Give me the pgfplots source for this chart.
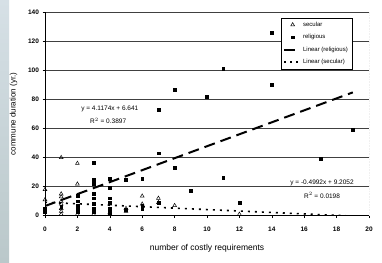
\documentclass[border=0pt]{standalone}
\usepackage{fontspec}
\setmainfont{Liberation Sans}
\usepackage{pgfplots}
\pgfplotsset{compat=1.18}
\begin{document}
\begin{tikzpicture}[x=1pt,y=1pt]
\useasboundingbox (0,0) rectangle (382,262);
\fill[white] (0,0) rectangle (382,262);
\shade[top color={rgb,255:red,214;green,224;blue,230}, bottom color={rgb,255:red,186;green,200;blue,202}] (0,0) rectangle (9,262);
\begin{axis}[
  at={(45pt,46.3pt)}, anchor=south west,
  scale only axis, width=324pt, height=203.4pt,
  xmin=0, xmax=20, ymin=0, ymax=140,
  xtick={0,2,...,20}, ytick={0,20,...,140},
  axis x line*=bottom, axis y line*=left,
  x axis line style={-}, y axis line style={-},
  tick align=outside, tick pos=left,
  major tick length=2.5pt,
  tick style={black, line width=0.6pt},
  ymajorgrids, grid style={black!75, line width=0.6pt},
  /pgf/number format/assume math mode=true,
  ticklabel style={font=\bfseries\fontsize{6.5}{7.5}\selectfont},
  xticklabel style={yshift=-5pt},
  xlabel={number of costly requirements},
  ylabel={commune duration (yr.)},
  xlabel style={font=\fontsize{8.5}{10}\selectfont, yshift=-6pt},
  ylabel style={font=\fontsize{8}{10}\selectfont, yshift=4pt},
  axis line style={black, line width=0.7pt},
  legend style={at={(0.728,0.974)}, anchor=north west, draw=black, line width=0.5pt,
    font=\fontsize{6}{7}\selectfont, row sep=2.6pt, inner sep=2pt,
    cells={anchor=west}},
  legend image post style={},
  clip=true,
]
\addplot[only marks, mark=triangle, mark size=2.2pt, mark options={black, line width=0.5pt, fill=white}] coordinates {
(0,18) (0,11) (1,40) (1,15) (1,13) (1,10) (1,8) (1,5) (1,3) (1,1)
(2,36) (2,21.8) (2,1) (3,1) (4,8) (4,2) (5,5) (5,3) (6,13.5) (6,8)
(7,12) (7,9) (8,7) (12,1)
};
\addlegendentry{secular}
\addplot[only marks, mark=square*, mark size=1.4pt, mark options={black}] coordinates {
(0,5) (0,3) (1,6) (2,14) (2,10) (2,7) (2,5) (2,3)
(3,36.7) (3,25) (3,22) (3,15) (3,12) (3,8) (3,5) (3,3)
(4,25.7) (4,19) (4,12) (4,9) (4,5) (4,2) (5,24.6) (5,4)
(6,25.7) (6,7) (6,5) (7,43) (7,72.7) (7,9) (8,86.5) (8,33)
(9,17) (10,82) (11,101) (11,26) (12,9) (14,126) (14,90)
(17,39) (19,59)
};
\addlegendentry{religious}
\addplot[black, line width=2pt, dash pattern=on 11pt off 6pt,
  legend image code/.code={\draw[line width=2pt] (0pt,0pt) -- (16pt,0pt);}] coordinates {(0,6.641) (19,84.872)};
\addlegendentry{Linear (religious)}
\addplot[black, line width=1.6pt, dash pattern=on 2pt off 5pt,
  legend image code/.code={\draw[line width=1.6pt, dash pattern=on 2pt off 4pt] (0pt,0pt) -- (16pt,0pt);}] coordinates {(0,9.2052) (19,-0.2796)};
\addlegendentry{Linear (secular)}
\node[font=\fontsize{6.5}{7.5}\selectfont] at (axis cs:4.0,73.4) {y = 4.1174x + 6.641};
\node[font=\fontsize{6.5}{7.5}\selectfont] at (axis cs:3.9,65.4) {R$^2$ = 0.3897};
\node[font=\fontsize{6.5}{7.5}\selectfont] at (axis cs:17.1,22.3) {y = -0.4992x + 9.2052};
\node[font=\fontsize{6.5}{7.5}\selectfont] at (axis cs:17.1,13.8) {R$^2$ = 0.0198};
\draw[black!45, densely dotted, line width=0.6pt] (rel axis cs:1,0) -- (rel axis cs:1,1);
\end{axis}
\end{tikzpicture}
\end{document}
